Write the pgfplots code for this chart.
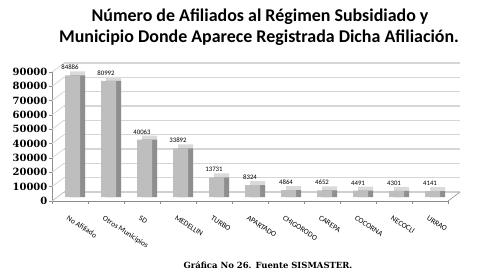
\documentclass[border=0pt]{standalone}
\usepackage{pgfplots}
\pgfplotsset{compat=1.18}
\usepackage{fontspec}
\setmainfont{Carlito}
\newfontfamily\serifb{DejaVu Serif}
\definecolor{gridc}{HTML}{D6D6D6}
\definecolor{frontc}{HTML}{BEBEBE}
\definecolor{sidec}{HTML}{8E8E8E}
\definecolor{topc}{HTML}{DADADA}
\definecolor{axc}{HTML}{8C8C8C}
\pgfplotstableread{
x val
0 84886
1 80992
2 40063
3 33892
4 13731
5 8324
6 4864
7 4652
8 4491
9 4301
10 4141
}\datatable
\begin{document}
\begin{tikzpicture}[x=1bp,y=1bp]
\path[use as bounding box] (0,0) rectangle (486,278);
\node[anchor=base,font=\bfseries\fontsize{18}{20}\selectfont] at (260,257) {Número de Afiliados al Régimen Subsidiado y};
\node[anchor=base,font=\bfseries\fontsize{18}{20}\selectfont] at (259,236) {Municipio Donde Aparece Registrada Dicha Afiliación.};
\node[anchor=base,font=\serifb\bfseries\fontsize{8.5}{9}\selectfont] at (268,10) {Gráfica No 26. Fuente SISMASTER.};
\begin{axis}[
  at={(52bp,77bp)}, anchor=south west,
  width=396bp, height=129bp, scale only axis,
  xmin=-0.5, xmax=10.5, ymin=0, ymax=90000,
  clip=false,
  axis x line=bottom, axis y line=left,
  axis line style={-, draw=axc, line width=0.6pt},
  xtick={0,...,10},
  xticklabels={No Afiliado,Otros Municipios,SD,MEDELLIN,TURBO,APARTADO,CHIGORODO,CAREPA,COCORNA,NECOCLI,URRAO},
  major x tick style={draw=none},
  minor xtick={-0.5,0.5,...,10.5},
  minor x tick style={draw=axc, line width=0.6pt},
  minor tick length=3bp,
  ytick={0,10000,...,90000},
  y tick style={draw=axc, line width=0.6pt},
  major tick length=3bp,
  tick align=outside,
  scaled y ticks=false,
  yticklabel style={font=\serifb\bfseries\fontsize{10}{10}\selectfont, /pgf/number format/assume math mode=true, /pgf/number format/1000 sep={}, inner sep=1.5bp},
  xticklabel style={xshift=-1bp, yshift=-11bp, rotate=-33, anchor=north west, font=\fontsize{7.6}{8}\selectfont, inner sep=0pt},
  every node near coord/.append style={font=\fontsize{6.8}{7}\selectfont, text=black, yshift=2bp},
]
\pgfplotsinvokeforeach{0,10000,20000,30000,40000,50000,60000,70000,80000,90000}{
  \draw[gridc, line width=1.3pt] ([shift={(12bp,9bp)}]axis cs:-0.5,#1) -- ([shift={(12bp,9bp)}]axis cs:10.5,#1);
  \draw[gridc, line width=0.8pt] (axis cs:-0.5,#1) -- ([shift={(12bp,9bp)}]axis cs:-0.5,#1);
}
\draw[axc, line width=0.6pt] (axis cs:10.5,0) -- ([shift={(12bp,9bp)}]axis cs:10.5,0);
\draw[gridc!80!gray, line width=0.6pt] (axis cs:-0.5,0) -- ([shift={(12bp,9bp)}]axis cs:-0.5,0) -- ([shift={(12bp,9bp)}]axis cs:10.5,0);
\addplot[ybar, bar width=15bp, bar shift=7.5bp, yshift=8bp, fill=topc, draw=none] table[x=x,y=val]{\datatable};
\addplot[ybar, bar width=15bp, bar shift=7.5bp, yshift=4bp, fill=sidec, draw=none] table[x=x,y=val]{\datatable};
\addplot[ybar, bar width=15bp, bar shift=2.5bp, yshift=4bp, fill=frontc, draw=none, nodes near coords, nodes near coords align={vertical}, point meta=explicit symbolic] table[x=x,y=val,meta=val]{\datatable};
\end{axis}
\end{tikzpicture}
\end{document}
